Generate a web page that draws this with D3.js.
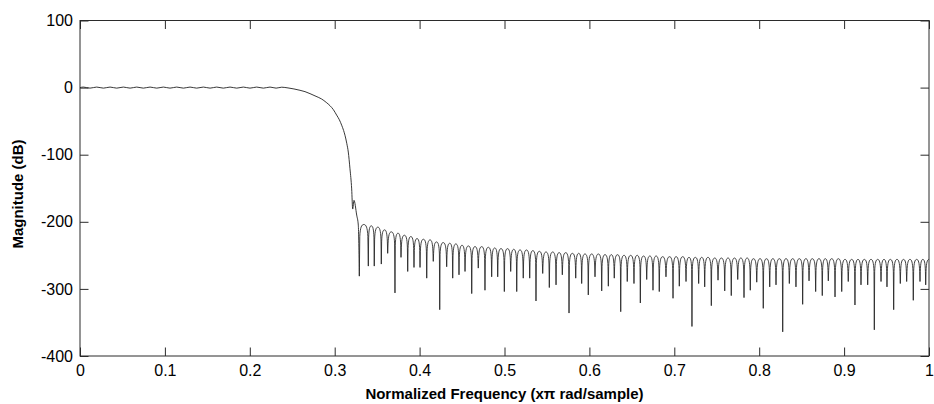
<!DOCTYPE html>
<html>
<head>
<meta charset="utf-8">
<script src="https://cdn.jsdelivr.net/npm/d3@7/dist/d3.min.js"></script>
<style>
  html, body { margin: 0; padding: 0; background: #fff; }
  svg { display: block; }
  text { font-family: "Liberation Sans", Arial, sans-serif; fill: #000; }
</style>
</head>
<body>
<svg id="chart" width="934" height="404"></svg>
<script>
// ---------- data ----------
const xTickValues = [0, 0.1, 0.2, 0.3, 0.4, 0.5, 0.6, 0.7, 0.8, 0.9, 1];
const xTickLabels = ["0", "0.1", "0.2", "0.3", "0.4", "0.5", "0.6", "0.7", "0.8", "0.9", "1"];
const yTickValues = [-400, -300, -200, -100, 0, 100];
const yTickLabels = ["-400", "-300", "-200", "-100", "0", "100"];
const xLabel = "Normalized Frequency (x\u03C0 rad/sample)";
const yLabel = "Magnitude (dB)";

// passband ripple and transition band
const passFreq = [0, 0.004, 0.0118, 0.0197, 0.0276, 0.0354, 0.0432, 0.0511, 0.059, 0.0668,
  0.0746, 0.0825, 0.0904, 0.0982, 0.106, 0.1139, 0.1218, 0.1296, 0.1374, 0.1453,
  0.1532, 0.161, 0.1688, 0.1767, 0.1846, 0.1924, 0.2002, 0.2081, 0.216, 0.2238,
  0.231, 0.2376, 0.245, 0.252, 0.2591, 0.265, 0.2709, 0.278, 0.2846, 0.29,
  0.2945, 0.2985, 0.3023, 0.3055, 0.3082, 0.3105, 0.3121, 0.3142, 0.316, 0.318,
  0.32, 0.3212, 0.3227, 0.3259, 0.3278, 0.329];
const passDb = [0, 0.8, -0.8, 0.8, -0.8, 0.8, -0.8, 0.8, -0.8, 0.8,
  -0.8, 0.8, -0.8, 0.8, -0.8, 0.8, -0.8, 0.8, -0.8, 0.8,
  -0.8, 0.8, -0.8, 0.8, -0.8, 0.8, -0.8, 0.8, -0.8, 0.8,
  -0.8, 0.6, -0.5, -2, -4, -6, -9, -13, -17, -22,
  -27, -33, -41, -48, -56, -64, -71, -83, -96, -121,
  -151, -181, -168, -190, -205, -281];

// stopband: null positions / depths, lobe-top positions / levels
const nullFreq = [0.329, 0.3396, 0.3466, 0.3549, 0.3624, 0.371, 0.3781, 0.386, 0.3934, 0.4005,
  0.4084, 0.4161, 0.4237, 0.4319, 0.439, 0.4464, 0.4535, 0.4614, 0.4691, 0.477,
  0.4849, 0.492, 0.4998, 0.5073, 0.5144, 0.5221, 0.5297, 0.5371, 0.545, 0.5528,
  0.5607, 0.5681, 0.576, 0.5839, 0.5909, 0.5987, 0.6066, 0.6145, 0.6223, 0.6293,
  0.6369, 0.6446, 0.6525, 0.66, 0.6675, 0.6749, 0.6823, 0.6902, 0.6985, 0.7059,
  0.7138, 0.7208, 0.7287, 0.7358, 0.7436, 0.7515, 0.7594, 0.7671, 0.7747, 0.7821,
  0.7895, 0.7971, 0.8048, 0.8124, 0.8198, 0.8277, 0.8355, 0.8433, 0.8512, 0.8587,
  0.8665, 0.8743, 0.8814, 0.8893, 0.8972, 0.9049, 0.9128, 0.9199, 0.9278, 0.9356,
  0.9435, 0.9505, 0.9584, 0.9662, 0.9737, 0.9815, 0.9894, 0.9961];
const nullDb = [-281, -266, -266, -263, -247, -306, -253, -274, -268, -268,
  -284, -259, -331, -267, -284, -279, -274, -307, -269, -302,
  -282, -282, -304, -274, -304, -284, -284, -318, -277, -298,
  -294, -279, -336, -284, -292, -309, -282, -303, -296, -284,
  -334, -289, -292, -321, -286, -302, -304, -282, -314, -296,
  -289, -356, -292, -297, -325, -287, -303, -310, -286, -313,
  -302, -290, -329, -297, -294, -364, -292, -297, -323, -288,
  -304, -310, -288, -312, -304, -289, -324, -294, -294, -361,
  -289, -297, -331, -292, -289, -317, -289, -294];
const peakFreq = [0.3343, 0.3431, 0.3508, 0.3587, 0.3667, 0.3746, 0.3821, 0.3897, 0.397, 0.4045,
  0.4123, 0.4199, 0.4278, 0.4355, 0.4427, 0.45, 0.4575, 0.4653, 0.4731, 0.481,
  0.4885, 0.4959, 0.5036, 0.5109, 0.5183, 0.5259, 0.5334, 0.5411, 0.5489, 0.5568,
  0.5644, 0.5721, 0.58, 0.5874, 0.5948, 0.6027, 0.6106, 0.6184, 0.6258, 0.6331,
  0.6408, 0.6486, 0.6563, 0.6638, 0.6712, 0.6786, 0.6863, 0.6944, 0.7022, 0.7099,
  0.7173, 0.7248, 0.7323, 0.7397, 0.7476, 0.7555, 0.7633, 0.7709, 0.7784, 0.7858,
  0.7933, 0.801, 0.8086, 0.8161, 0.8238, 0.8316, 0.8394, 0.8473, 0.855, 0.8626,
  0.8704, 0.8779, 0.8854, 0.8933, 0.9011, 0.9089, 0.9164, 0.9239, 0.9317, 0.9396,
  0.947, 0.9545, 0.9623, 0.97, 0.9776, 0.9855, 0.9928, 1.0];
const peakDb = [-204, -206, -208, -212, -215, -217, -220, -222, -225, -226,
  -227, -230, -231, -232, -233, -235, -236, -237, -237, -238,
  -239, -240, -240, -241, -242, -242, -243, -244, -245, -245,
  -246, -246, -247, -247, -248, -248, -248, -249, -249, -249,
  -250, -250, -250, -251, -251, -251, -252, -252, -252, -252,
  -253, -253, -253, -253, -254, -254, -254, -254, -254, -254,
  -255, -255, -255, -255, -255, -255, -255, -255, -255, -255,
  -255, -255, -255, -255, -256, -256, -256, -256, -256, -256,
  -256, -256, -256, -256, -256, -256, -256, -256];

// ---------- layout ----------
const W = 934, H = 404;
const plot = { left: 80, right: 929, top: 20.5, bottom: 356 };
const tickLen = 8.5;

const svg = d3.select("#chart");
svg.append("rect").attr("width", W).attr("height", H).attr("fill", "#fff");

const x = d3.scaleLinear().domain([0, 1]).range([plot.left, plot.right]);
const y = d3.scaleLinear().domain([-400, 100]).range([plot.bottom, plot.top]);

// custom curve: round lobe tops, sharp nulls
function LobeCurve(context) { this._context = context; }
LobeCurve.prototype = {
  areaStart() {}, areaEnd() {},
  lineStart() { this._point = 0; },
  lineEnd() {},
  point(px, py) {
    px = +px; py = +py;
    const ctx = this._context;
    if (this._point === 0) { this._point = 1; ctx.moveTo(px, py); }
    else {
      const x0 = this._x, y0 = this._y, dx = px - x0;
      if (py < y0) {
        const c = Math.min(12, 0.6 * (y0 - py));
        ctx.lineTo(x0 + 0.1 * dx, py + c);
        ctx.bezierCurveTo(x0 + 0.2 * dx, py + 0.25 * c, px - 0.5 * dx, py, px, py);
      } else {
        const c = Math.min(12, 0.6 * (py - y0));
        ctx.bezierCurveTo(x0 + 0.5 * dx, y0, px - 0.2 * dx, y0 + 0.25 * c, px - 0.1 * dx, y0 + c);
        ctx.lineTo(px, py);
      }
    }
    this._x = px; this._y = py;
  }
};
const curveLobe = ctx => new LobeCurve(ctx);

// ---------- curve ----------
const passPts = passFreq.map((f, i) => [f, passDb[i]]);
const stopPts = [];
nullFreq.forEach((f, i) => {
  stopPts.push([f, nullDb[i]]);
  stopPts.push([peakFreq[i], peakDb[i]]);
});

const lineColor = "#222";
const g = svg.append("g");
g.append("path")
  .datum(passPts)
  .attr("fill", "none").attr("stroke", lineColor).attr("stroke-width", 0.9)
  .attr("d", d3.line().x(d => x(d[0])).y(d => y(d[1])).curve(d3.curveMonotoneX));
g.append("path")
  .datum(stopPts)
  .attr("fill", "none").attr("stroke", lineColor).attr("stroke-width", 0.85)
  .attr("d", d3.line().x(d => x(d[0])).y(d => y(d[1])).curve(curveLobe));

// ---------- axes ----------
const axColor = "#2b2b2b";
function styleAxis(sel) {
  sel.select(".domain").remove();
  sel.selectAll(".tick line").attr("stroke", axColor).attr("stroke-width", 1);
  sel.selectAll(".tick text").attr("font-size", 16).attr("fill", "#000")
     .attr("font-family", "'Liberation Sans', Arial, sans-serif");
}
svg.append("g").attr("transform", `translate(0,${plot.bottom})`)
  .call(d3.axisBottom(x).tickValues(xTickValues).tickFormat((d, i) => xTickLabels[i])
        .tickSize(-tickLen).tickPadding(9))
  .call(styleAxis);
svg.append("g").attr("transform", `translate(0,${plot.top})`)
  .call(d3.axisTop(x).tickValues(xTickValues).tickFormat("").tickSize(-tickLen))
  .call(styleAxis);
svg.append("g").attr("transform", `translate(${plot.left},0)`)
  .call(d3.axisLeft(y).tickValues(yTickValues).tickFormat((d, i) => yTickLabels[i])
        .tickSize(-tickLen).tickPadding(7))
  .call(styleAxis);
svg.append("g").attr("transform", `translate(${plot.right},0)`)
  .call(d3.axisRight(y).tickValues(yTickValues).tickFormat("").tickSize(-tickLen))
  .call(styleAxis);

svg.append("rect")
  .attr("x", plot.left).attr("y", plot.top)
  .attr("width", plot.right - plot.left).attr("height", plot.bottom - plot.top)
  .attr("fill", "none").attr("stroke", axColor).attr("stroke-width", 1);

// ---------- labels ----------
svg.append("text")
  .attr("x", (plot.left + plot.right) / 2).attr("y", 399)
  .attr("text-anchor", "middle").attr("font-size", 15).attr("font-weight", "bold")
  .text(xLabel);
svg.append("text")
  .attr("transform", `translate(23,194) rotate(-90)`)
  .attr("text-anchor", "middle").attr("font-size", 15).attr("font-weight", "bold")
  .text(yLabel);
</script>
</body>
</html>
